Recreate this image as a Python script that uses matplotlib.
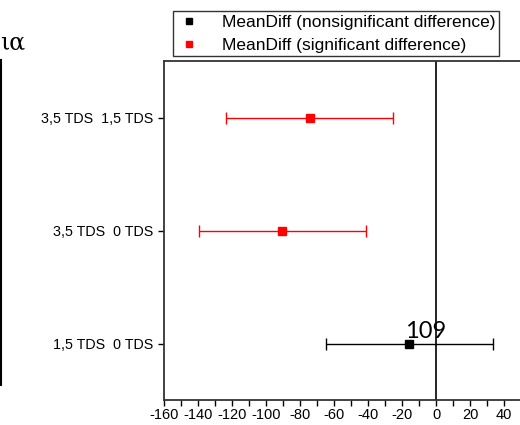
import matplotlib
matplotlib.use('Agg')
import matplotlib.pyplot as plt
from matplotlib.lines import Line2D
from matplotlib.ticker import MultipleLocator

plt.rcParams['font.family'] = ['Liberation Sans', 'DejaVu Sans']

# Pairwise comparisons (bottom to top in the plot).
pairs = ['1,5 TDS  0 TDS', '3,5 TDS  0 TDS', '3,5 TDS  1,5 TDS']
mean_diff = [-15.6, -90.3, -74.4]
ci_half = [49.1, 49.1, 49.1]
significant = [False, True, True]

x_ticks = [-160, -140, -120, -100, -80, -60, -40, -20, 0, 20, 40]
annotation = '109'

fig = plt.figure(figsize=(5.2, 4.25), dpi=100)
ax = fig.add_axes([164 / 520, 1 - 400 / 425, 1 - 164 / 520, (400 - 61) / 425])

y_pos = list(range(1, len(pairs) + 1))
for y, m, e, sig in zip(y_pos, mean_diff, ci_half, significant):
    col = 'red' if sig else 'black'
    ax.errorbar(m, y, xerr=e, fmt='s', color=col, ecolor=col, elinewidth=1,
                capsize=4, capthick=1, markersize=6, zorder=3)

ax.axvline(0, color='black', lw=1.2, zorder=2)

ax.set_xlim(-160, 49.4)
ax.set_ylim(0.5, 3.5)
ax.set_yticks(y_pos)
ax.set_yticklabels(pairs, fontsize=10.3)
ax.set_xticks(x_ticks)
ax.set_xticklabels([str(t) for t in x_ticks], fontsize=10.5)
ax.xaxis.set_minor_locator(MultipleLocator(10))
ax.tick_params(axis='both', which='both', direction='out', length=4, width=1)
ax.tick_params(axis='x', pad=2)
ax.spines['right'].set_visible(False)
for s in ['left', 'top', 'bottom']:
    ax.spines[s].set_linewidth(1.3)
    ax.spines[s].set_color('#333333')

ax.text(-18.2, 1.053, annotation, fontsize=17, family=['Lato', 'DejaVu Sans'],
        ha='left', va='baseline', zorder=4)

handles = [
    Line2D([], [], marker='s', color='black', ls='none', markersize=5),
    Line2D([], [], marker='s', color='red', ls='none', markersize=5),
]
leg = fig.legend(handles, ['MeanDiff (nonsignificant difference)',
                           'MeanDiff (significant difference)'],
                 loc='upper left', bbox_to_anchor=(173 / 520, 1 - 11 / 425),
                 fontsize=12.5, frameon=True, fancybox=False, borderpad=0.2,
                 labelspacing=0.45, handlelength=1.5, handletextpad=1.1,
                 borderaxespad=0)
leg.get_frame().set_edgecolor('black')
leg.get_frame().set_linewidth(1)

# Pieces of the neighbouring panel that show at the left edge.
fig.add_artist(Line2D([1 / 520, 1 / 520], [1 - 60 / 425, 1 - 385 / 425],
                      color='black', lw=1.5, transform=fig.transFigure))
fig.text(0, 1 - 50 / 425, 'ια', fontsize=17, family=['DejaVu Serif'],
         ha='left', va='baseline')

fig.savefig('out.png', dpi=100)
